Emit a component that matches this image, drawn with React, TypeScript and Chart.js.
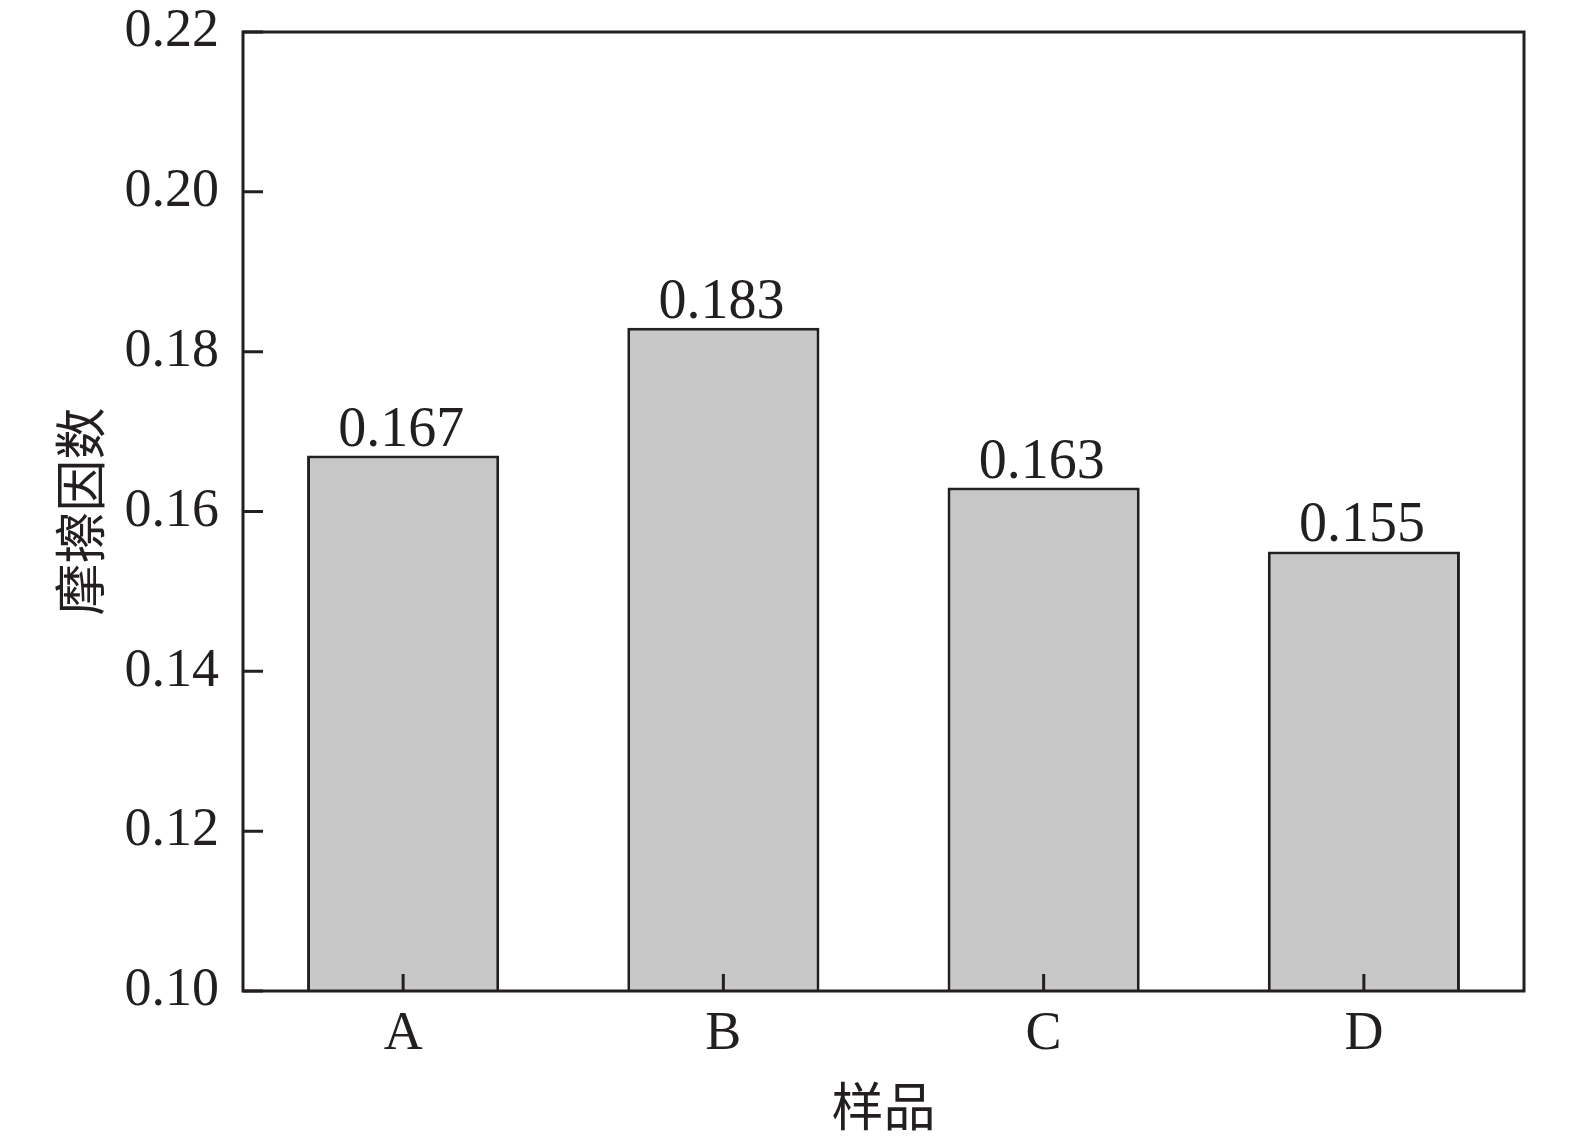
import React, { useEffect, useRef } from "react";
import Chart from "chart.js/auto";

const samples = ["A", "B", "C", "D"];
const friction = [0.167, 0.183, 0.163, 0.155];
const yTicks = [0.1, 0.12, 0.14, 0.16, 0.18, 0.2, 0.22];

const INK = "#231f20";
const SERIF = "'Liberation Serif', 'Times New Roman', serif";
const CJK = "'Liberation Serif', 'Noto Sans CJK SC', serif";

// frame around the plot area plus inward ticks
const framePlugin = {
  id: "frame",
  afterDatasetsDraw(chart) {
    const { ctx, chartArea: a, scales } = chart;
    ctx.save();
    ctx.strokeStyle = INK;
    ctx.lineWidth = 3;
    ctx.strokeRect(a.left, a.top, a.right - a.left, a.bottom - a.top);
    ctx.beginPath();
    scales.y.ticks.forEach((t) => {
      const y = scales.y.getPixelForValue(t.value);
      ctx.moveTo(a.left, y);
      ctx.lineTo(a.left + 20, y);
    });
    samples.forEach((_, i) => {
      const x = scales.x.getPixelForValue(i);
      ctx.moveTo(x, a.bottom);
      ctx.lineTo(x, a.bottom - 17);
    });
    ctx.stroke();

    // value labels above bars
    const meta = chart.getDatasetMeta(0);
    ctx.fillStyle = INK;
    ctx.font = `56px ${SERIF}`;
    ctx.textAlign = "center";
    ctx.textBaseline = "alphabetic";
    meta.data.forEach((bar, i) => {
      ctx.fillText(friction[i].toFixed(3), bar.x - 2, bar.y - 10);
    });
    ctx.restore();
  },
};

const App = () => {
  const canvasRef = useRef(null);
  const chartRef = useRef(null);

  useEffect(() => {
    const ctx = canvasRef.current.getContext("2d");
    if (chartRef.current) chartRef.current.destroy();

    chartRef.current = new Chart(ctx, {
      type: "bar",
      data: {
        labels: samples,
        datasets: [
          {
            data: friction,
            backgroundColor: "#c8c8c8",
            borderColor: INK,
            borderWidth: 3,
            barPercentage: 0.6,
            categoryPercentage: 1,
          },
        ],
      },
      options: {
        responsive: false,
        animation: false,
        layout: { padding: { top: 32, right: 51, left: 0, bottom: 0 } },
        plugins: {
          legend: { display: false },
          tooltip: { enabled: false },
        },
        scales: {
          x: {
            grid: { display: false, drawTicks: false },
            border: { display: false },
            ticks: {
              color: INK,
              padding: 11,
              font: { family: SERIF, size: 54 },
            },
            title: {
              display: true,
              text: "样品",
              color: INK,
              font: { family: CJK, size: 52, lineHeight: 1 },
              padding: { top: 0, bottom: 6 },
            },
            afterFit: (scale) => {
              scale.height = 153;
              scale.paddingLeft = 0;
              scale.paddingRight = 0;
            },
          },
          y: {
            min: yTicks[0],
            max: yTicks[yTicks.length - 1],
            grid: { display: false, drawTicks: false },
            border: { display: false },
            afterBuildTicks: (scale) => {
              scale.ticks = yTicks.map((v) => ({ value: v }));
            },
            ticks: {
              color: INK,
              padding: 24,
              font: { family: SERIF, size: 54 },
              callback: (v) => Number(v).toFixed(2),
            },
            title: {
              display: true,
              text: "摩擦因数",
              color: INK,
              font: { family: CJK, size: 52, lineHeight: 1 },
              padding: { top: 60, bottom: 0 },
            },
            afterFit: (scale) => {
              scale.width = 243;
              scale.paddingTop = 0;
              scale.paddingBottom = 0;
            },
          },
        },
      },
      plugins: [framePlugin],
    });

    return () => {
      if (chartRef.current) {
        chartRef.current.destroy();
        chartRef.current = null;
      }
    };
  }, []);

  return (
    <div style={{ position: "fixed", left: 0, top: 0, width: 1575, height: 1144, background: "#fff" }}>
      <canvas ref={canvasRef} width={1575} height={1144}></canvas>
    </div>
  );
};

export default App;
